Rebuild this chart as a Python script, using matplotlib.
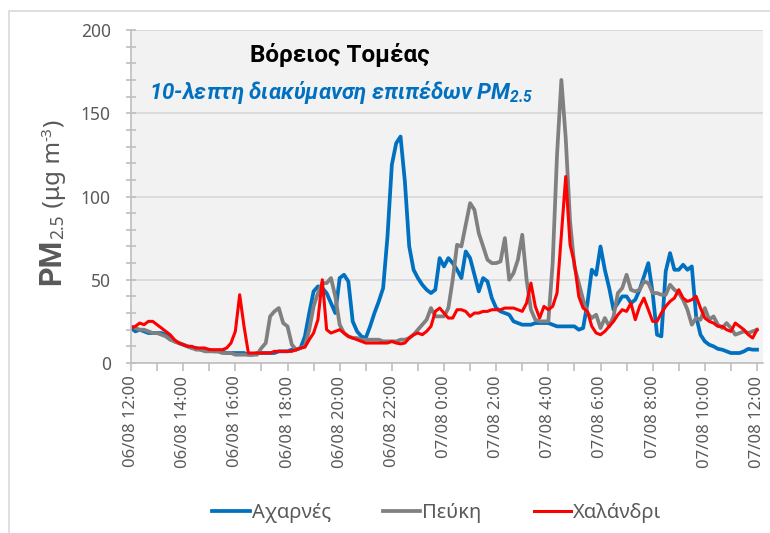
import numpy as np
import matplotlib
matplotlib.use("Agg")
import matplotlib.pyplot as plt
from matplotlib.ticker import MultipleLocator
from matplotlib.patches import Rectangle

plt.rcParams['font.family'] = ['Noto Sans', 'DejaVu Sans']
plt.rcParams['mathtext.fontset'] = 'custom'
plt.rcParams['mathtext.rm'] = 'Roboto'
plt.rcParams['mathtext.bf'] = 'Roboto:bold'
plt.rcParams['mathtext.bfit'] = 'Roboto:italic:bold'

# ---- data (10-minute values, 06/08 12:00 -> 07/08 12:00) ----
series_names = ["Αχαρνές", "Πεύκη", "Χαλάνδρι"]

acharnes = [
    21, 19, 20, 19, 18, 18,
    18, 18, 17, 15, 13, 12,
    11, 10, 9, 9, 8, 8,
    8, 7, 7, 7, 6, 6,
    6, 6, 6, 5, 5, 6,
    6, 6, 6, 6, 7, 7,
    7, 8, 8, 9, 16, 30,
    43, 46, 45, 42, 36, 30,
    51, 53, 49, 25, 19, 16,
    15, 22, 30, 37, 45, 76,
    119, 132, 136, 109, 70, 56,
    51, 47, 44, 42, 44, 63,
    58, 63, 60, 56, 51, 67,
    63, 53, 43, 51, 49, 39,
    33, 31, 30, 29, 25, 24,
    23, 23, 23, 24, 24, 24,
    24, 23, 22, 22, 22, 22,
    22, 20, 21, 36, 56, 53,
    70, 56, 45, 32, 36, 40,
    40, 36, 38, 44, 52, 60,
    42, 17, 16, 55, 66, 56,
    56, 59, 56, 58, 28, 17,
    13, 11, 10, 8.5, 8, 7,
    6, 6, 6, 7, 8.5, 8,
    8,
]

pefki = [
    22, 21, 20, 20, 19, 18,
    18, 17, 16, 14, 13, 12,
    11, 10, 9, 8, 8, 7,
    7, 7, 7, 6, 6, 6,
    5, 5, 5, 5, 5, 5,
    9, 12, 28, 31, 33, 24,
    22, 11, 8, 9, 10, 20,
    34, 42, 48, 48, 51, 40,
    23, 18, 16, 15, 15, 14,
    14, 14, 14, 14, 13, 13,
    13, 13, 14, 14, 15, 17,
    20, 23, 26, 33, 28, 28,
    28, 33, 50, 71, 70, 83,
    96, 92, 78, 70, 62, 60,
    60, 61, 75, 50, 54, 62,
    77, 50, 32, 26, 25, 25,
    25, 60, 125, 170, 135, 85,
    58, 48, 38, 30, 27, 29,
    21, 27, 22, 28, 42, 45,
    53, 44, 43, 44, 49, 48,
    42, 42, 41, 41, 47, 44,
    42, 38, 32, 23, 27, 26,
    33, 26, 28, 23, 21, 24,
    21, 17, 18, 19, 18, 19,
    20,
]

chalandri = [
    21, 22, 24, 23, 25, 25,
    23, 21, 19, 17, 14, 12,
    11, 10, 10, 9, 9, 9,
    8, 8, 8, 8, 9, 12,
    19, 41, 22, 6, 6, 6,
    6, 6, 6, 7, 7, 7,
    7, 7, 8, 9, 9.5, 14,
    18, 26, 50, 20, 18, 19,
    20, 18, 16, 15, 14, 13,
    12, 12, 12, 12, 12, 12,
    13, 12, 11.5, 12, 15, 17,
    18, 17, 19, 22, 31, 33,
    30, 27, 27, 32, 32, 31,
    28, 30, 30, 31, 31, 32,
    32, 32, 33, 33, 33, 32,
    31, 36, 48, 34, 27, 34,
    32, 34, 42, 77, 112, 71,
    60, 40, 33, 31, 22, 18,
    17, 19, 22, 25, 29, 32,
    31, 36, 26, 34, 39, 32,
    25, 25, 30, 34, 37, 39,
    44, 39, 37, 38, 40, 33,
    27, 25, 24, 22, 22, 20,
    19, 24, 22, 20, 17, 15,
    20,
]

tick_labels = ["06/08 12:00", "06/08 14:00", "06/08 16:00", "06/08 18:00",
               "06/08 20:00", "06/08 22:00", "07/08 0:00", "07/08 2:00",
               "07/08 4:00", "07/08 6:00", "07/08 8:00", "07/08 10:00",
               "07/08 12:00"]

colors = ["#0070C0", "#808080", "#FF0000"]
widths = [2.7, 2.7, 2.2]

hours = np.arange(len(acharnes)) / 6.0

BOLD_FAMILY = ['Roboto', 'DejaVu Sans']

W, H = 770, 533
fig = plt.figure(figsize=(W / 100, H / 100), dpi=100)
fig.patch.set_facecolor('white')
fig.patches.append(Rectangle((8.5 / W, -0.1), 2.0, 1 - 11.5 / H + 0.1,
                             transform=fig.transFigure, fill=False,
                             ec='#D9D9D9', lw=1.2))

ax = fig.add_axes([131 / W, 1 - 363 / H, 632 / W, 333 / H])
ax.set_facecolor('#F2F2F2')

for vals, name, c, lw in zip([acharnes, pefki, chalandri], series_names, colors, widths):
    ax.plot(hours, vals, color=c, lw=lw, label=name, solid_joinstyle='round')

ax.set_xlim(0, 24 * 632 / 626)
ax.set_ylim(0, 200)
ax.set_yticks(np.arange(0, 201, 50))
ax.yaxis.set_minor_locator(MultipleLocator(10))
ax.set_xticks(np.arange(0, 25, 2))
ax.set_xticklabels(tick_labels, rotation=90)
ax.set_xticks(np.arange(0, 25, 1), minor=True)

for s in ['top', 'right']:
    ax.spines[s].set_visible(False)
for s in ['left', 'bottom']:
    ax.spines[s].set_color('#BFBFBF')
    ax.spines[s].set_linewidth(1.2)

ax.tick_params(axis='y', which='both', direction='inout', length=7,
               color='#BFBFBF', width=1.2, labelsize=12.5,
               labelcolor='#595959', pad=11)
ax.tick_params(axis='x', which='both', direction='out', length=6,
               color='#BFBFBF', width=1.2, labelsize=12,
               labelcolor='#595959', pad=3)
ax.yaxis.grid(True, which='major', color='#D9D9D9', lw=1.3)
ax.set_axisbelow(True)

# titles
fig.text(340 / W, 1 - 55 / H, "Βόρειος Τομέας", ha='center', va='center',
         fontsize=17.5, fontweight='bold', color='black', family=BOLD_FAMILY)
fig.text(341 / W, 1 - 92 / H, r"10-λεπτη διακύμανση επιπέδων PM$_{\mathbfit{2.5}}$",
         ha='center', va='center', fontsize=16, fontweight='bold',
         fontstyle='italic', color='#0070C0', family=BOLD_FAMILY)

# y label composed of pieces
renderer = fig.canvas.get_renderer()
xb = 60 / W
ycur = 1 - 285 / H
pieces = [("PM", 22, 'bold', 0, BOLD_FAMILY), ("2.5", 12.5, 'normal', 3, None),
          (" (μg m", 17.5, 'normal', 0, None), ("-3", 11, 'normal', -9, None),
          (")", 17.5, 'normal', 0, None)]
for s, size, weight, dx, fam in pieces:
    kw = {} if fam is None else {'family': fam}
    t = fig.text(xb + dx / W, ycur, s, rotation=90, rotation_mode='anchor',
                 ha='left', va='baseline', fontsize=size, fontweight=weight,
                 color='#595959', **kw)
    bb = t.get_window_extent(renderer)
    ycur += bb.height / H

leg = fig.legend(loc='center', bbox_to_anchor=(437 / W, 1 - 513 / H), ncol=3,
                 frameon=False, fontsize=14.5, handlelength=1.85,
                 handletextpad=0.1, columnspacing=2.6)
for txt in leg.get_texts():
    txt.set_color('#595959')

fig.savefig("out.png", dpi=100)
